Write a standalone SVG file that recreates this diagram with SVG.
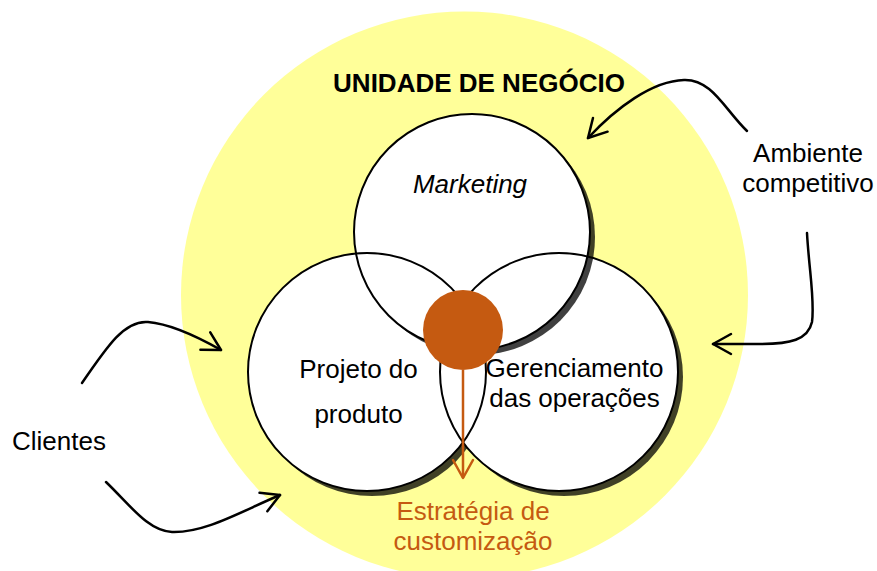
<svg xmlns="http://www.w3.org/2000/svg" width="877" height="571" viewBox="0 0 877 571">
<style>
text{font-family:"Liberation Sans",Arial,sans-serif;font-size:26px;fill:#000}
.shadow{fill:#000;fill-opacity:0.75}
.fill{fill:#fff}
.outline{fill:none;stroke:#000;stroke-width:2}
.arrow{fill:none;stroke:#000;stroke-width:2.5;stroke-linecap:round}
.orange{fill:#C55A11}
</style>
<defs>
<marker id="head" markerUnits="userSpaceOnUse" viewBox="-22 -13 24 26" markerWidth="24" markerHeight="26" refX="0" refY="0" orient="auto" overflow="visible">
<path d="M-18,-10 L0,0 L-18,10" fill="none" stroke="#000" stroke-width="2.5" stroke-linecap="round" stroke-linejoin="round"/>
</marker>
<marker id="ohead" markerUnits="userSpaceOnUse" viewBox="-22 -13 24 26" markerWidth="24" markerHeight="26" refX="0" refY="0" orient="auto" overflow="visible">
<path d="M-18,-10 L0,0 L-18,10" fill="none" stroke="#C55A11" stroke-width="2.5" stroke-linecap="round" stroke-linejoin="round"/>
</marker>
</defs>
<g id="unidade">
<circle cx="464.5" cy="295" r="283.5" fill="#FFFF99"/>
<text x="479" y="92" text-anchor="middle" font-weight="bold">UNIDADE DE NEGÓCIO</text>
</g>
<g id="projeto">
<circle class="shadow" cx="372" cy="377" r="119"/>
</g>
<g id="gerenciamento">
<circle class="shadow" cx="564" cy="377" r="119"/>
</g>
<g id="fills">
<circle class="fill" cx="367" cy="372" r="119"/>
<circle class="fill" cx="559" cy="372" r="119"/>
<circle class="shadow" cx="477" cy="237" r="118"/>
<circle class="fill" cx="472" cy="232" r="118"/>
</g>
<g id="outlines">
<circle class="outline" cx="367" cy="372" r="119"/>
<circle class="outline" cx="559" cy="372" r="119"/>
<circle class="outline" cx="472" cy="232" r="118"/>
</g>
<g id="marketing">
<text x="470" y="193" text-anchor="middle" font-style="italic">Marketing</text>
</g>
<g id="projeto-label">
<text x="358.5" y="378" text-anchor="middle">Projeto do</text>
<text x="358.5" y="423" text-anchor="middle">produto</text>
</g>
<g id="gerenciamento-label">
<text x="574.5" y="377" text-anchor="middle">Gerenciamento</text>
<text x="574.5" y="407" text-anchor="middle">das operações</text>
</g>
<g id="estrategia">
<circle class="orange" cx="463" cy="330" r="40"/>
<text x="473" y="520" text-anchor="middle" style="fill:#C55A11">Estratégia de</text>
<text x="473" y="550" text-anchor="middle" style="fill:#C55A11">customização</text>
</g>
<g id="clientes">
<text x="12" y="450">Clientes</text>
</g>
<g id="ambiente">
<text x="808" y="162" text-anchor="middle">Ambiente</text>
<text x="808" y="192" text-anchor="middle">competitivo</text>
</g>
<g id="connectors">
<path class="arrow" d="M82,383 C108,345 125,320 148,322 C172,324 198,337 221,350" marker-end="url(#head)"/>
<path class="arrow" d="M106,482 C130,505 148,531 172,532 C205,533 240,512 280,495" marker-end="url(#head)"/>
<path class="arrow" d="M747,131 C725,110 712,79 684,80 C652,81 616,108 588,138" marker-end="url(#head)"/>
<path class="arrow" d="M807,233 C809,270 815,300 812,322 C808,340 790,344 760,344 L713,344" marker-end="url(#head)"/>
<path d="M463,370 L463,478" fill="none" stroke="#C55A11" stroke-width="2.5" marker-end="url(#ohead)"/>
</g>
</svg>
